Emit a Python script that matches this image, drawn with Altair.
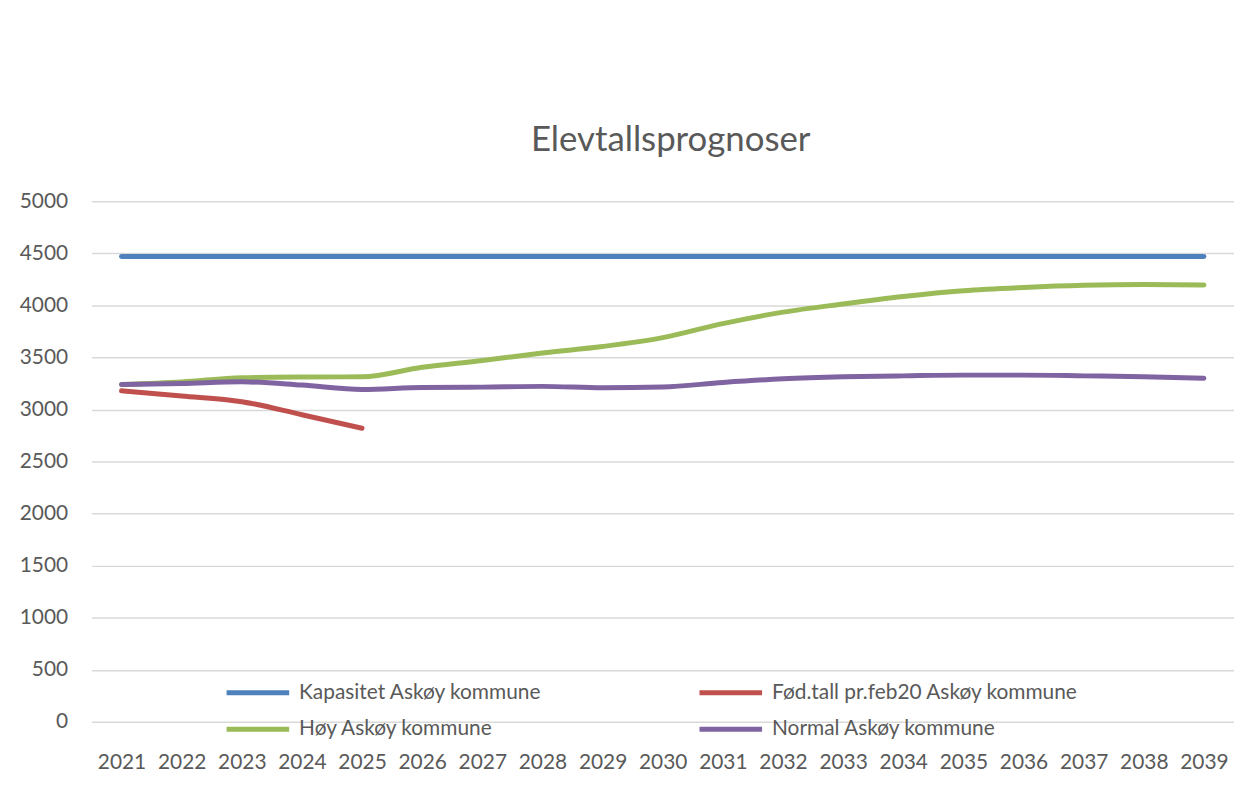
import altair as alt
import pandas as pd

years = list(range(2021, 2040))
kapasitet = [4470] * 19
fodtall = [3180, 3130, 3075, 2950, 2820]
hoy = [3241, 3265, 3305, 3312, 3314, 3405, 3470, 3543, 3605, 3690, 3825, 3935,
       4014, 4085, 4140, 4172, 4193, 4200, 4195]
normal = [3241, 3250, 3266, 3235, 3193, 3212, 3215, 3222, 3209, 3216, 3260, 3295,
          3314, 3323, 3330, 3330, 3323, 3314, 3300]

series_names = ["Kapasitet Askøy kommune", "Fød.tall pr.feb20 Askøy kommune",
                "Høy Askøy kommune", "Normal Askøy kommune"]
series_colors = ["#4F81BD", "#C0504D", "#9BBB59", "#8064A2"]

rows = []
for name, vals in zip(series_names, [kapasitet, fodtall, hoy, normal]):
    for y, v in zip(years, vals):
        rows.append({"year": str(y), "value": v, "series": name})
df = pd.DataFrame(rows)

FONT = "Lato"
GREY = "#595959"

chart = alt.Chart(df).mark_line(strokeWidth=5, strokeCap="round", interpolate="monotone").encode(
    x=alt.X("year:O", title=None, sort=[str(y) for y in years],
            scale=alt.Scale(paddingInner=0, paddingOuter=0),
            axis=alt.Axis(labelAngle=0, ticks=False, domain=False, grid=False,
                          labelPadding=30, labelFontSize=21, labelColor=GREY, labelFont=FONT)),
    y=alt.Y("value:Q", title=None, scale=alt.Scale(domain=[0, 5000]),
            axis=alt.Axis(values=list(range(0, 5001, 500)), format="d", ticks=False, domain=False,
                          gridColor="#D9D9D9", gridWidth=1.5, labelPadding=24,
                          labelFontSize=21, labelColor=GREY, labelFont=FONT)),
    color=alt.Color("series:N", sort=series_names,
                    scale=alt.Scale(domain=series_names, range=series_colors),
                    legend=alt.Legend(title=None, orient="none", legendX=149, legendY=476,
                                      direction="horizontal",
                                      columns=2, columnPadding=148, rowPadding=8,
                                      symbolType="M-2,0H2", symbolSize=992, symbolStrokeWidth=5,
                                      labelFontSize=21, labelColor=GREY, labelFont=FONT,
                                      labelOffset=23, labelLimit=500)),
    order=alt.Order("year:O"),
).properties(
    width=1150, height=524,
    title=alt.TitleParams("Elevtallsprognoser", fontSize=35, font=FONT, color=GREY,
                          fontWeight="normal", offset=33, dx=8, anchor="middle"),
    autosize=alt.AutoSizeParams(type="none"),
    padding={"left": 84, "top": 192, "right": 0, "bottom": 55},
).configure_view(stroke=None)

chart.save("out.html", embed_options={"renderer": "svg", "actions": False})
